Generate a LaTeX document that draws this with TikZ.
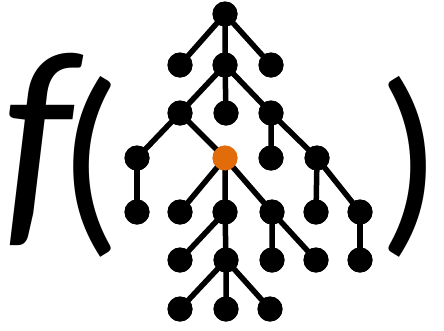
\documentclass[tikz,border=0pt]{standalone}
\usepackage{fontspec}
\setmainfont{Carlito}
\newfontfamily\ffont{Lato}
\definecolor{treeorange}{HTML}{E36C0A}
\begin{document}
\begin{tikzpicture}[x=1pt,y=-1pt,
  dot/.style={circle,fill=black,minimum size=25pt,inner sep=0pt},
  hot/.style={circle,fill=treeorange,minimum size=25pt,inner sep=0pt},
  edge/.style={line width=5.5pt,black},
  ptext/.style={font=\fontsize{208}{208}\selectfont,inner sep=0pt}]
\useasboundingbox (0,0) rectangle (444,330);
% text
\node[ptext,anchor=base west] (fl) at (0,217)
  {\makebox[58pt][l]{\ffont\itshape\fontsize{226}{226}\selectfont f}\raisebox{-11pt}{(}};
\node[ptext,anchor=base east] (fr) at (442,228) {)};
% nodes
\node[dot] (r) at (225,14) {};
\node[dot] (a1) at (180,65) {};
\node[dot] (a2) at (225,65) {};
\node[dot] (a3) at (271,65) {};
\node[dot] (b1) at (180,113) {};
\node[dot] (b2) at (226,113) {};
\node[dot] (b3) at (271,113) {};
\node[dot] (c1) at (137,158) {};
\node[hot] (c2) at (225,158) {};
\node[dot] (c3) at (271,158) {};
\node[dot] (c4) at (317,158) {};
\node[dot] (d1) at (137,212) {};
\node[dot] (d2) at (180,212) {};
\node[dot] (d3) at (225,212) {};
\node[dot] (d4) at (272,212) {};
\node[dot] (d5) at (316,212) {};
\node[dot] (d6) at (360,212) {};
\node[dot] (e1) at (180,260) {};
\node[dot] (e2) at (226,260) {};
\node[dot] (e3) at (272,260) {};
\node[dot] (e4) at (316,260) {};
\node[dot] (e5) at (360,260) {};
\node[dot] (f1) at (180,309) {};
\node[dot] (f2) at (226,309) {};
\node[dot] (f3) at (270,309) {};
% edges
\draw[edge] (r.center) -- (a1.center) (r.center) -- (a2.center) (r.center) -- (a3.center);
\draw[edge] (a2.center) -- (b1.center) (a2.center) -- (b2.center) (a2.center) -- (b3.center);
\draw[edge] (b1.center) -- (c1.center) (b1.center) -- (c2.center);
\draw[edge] (b3.center) -- (c3.center) (b3.center) -- (c4.center);
\draw[edge] (c1.center) -- (d1.center);
\draw[edge] (c2.center) -- (d2.center) (c2.center) -- (d3.center) (c2.center) -- (d4.center);
\draw[edge] (c4.center) -- (d5.center) (c4.center) -- (d6.center);
\draw[edge] (d3.center) -- (e1.center) (d3.center) -- (e2.center);
\draw[edge] (d4.center) -- (e3.center) (d4.center) -- (e4.center);
\draw[edge] (d6.center) -- (e5.center);
\draw[edge] (e2.center) -- (f1.center) (e2.center) -- (f2.center) (e2.center) -- (f3.center);
% redraw dots on top of the connectors
\foreach \n in {r,a1,a2,a3,b1,b2,b3,c1,c3,c4,d1,d2,d3,d4,d5,d6,e1,e2,e3,e4,e5,f1,f2,f3}
  \fill[black] (\n) circle (12.5pt);
\fill[treeorange] (c2) circle (12.5pt);
\end{tikzpicture}
\end{document}
